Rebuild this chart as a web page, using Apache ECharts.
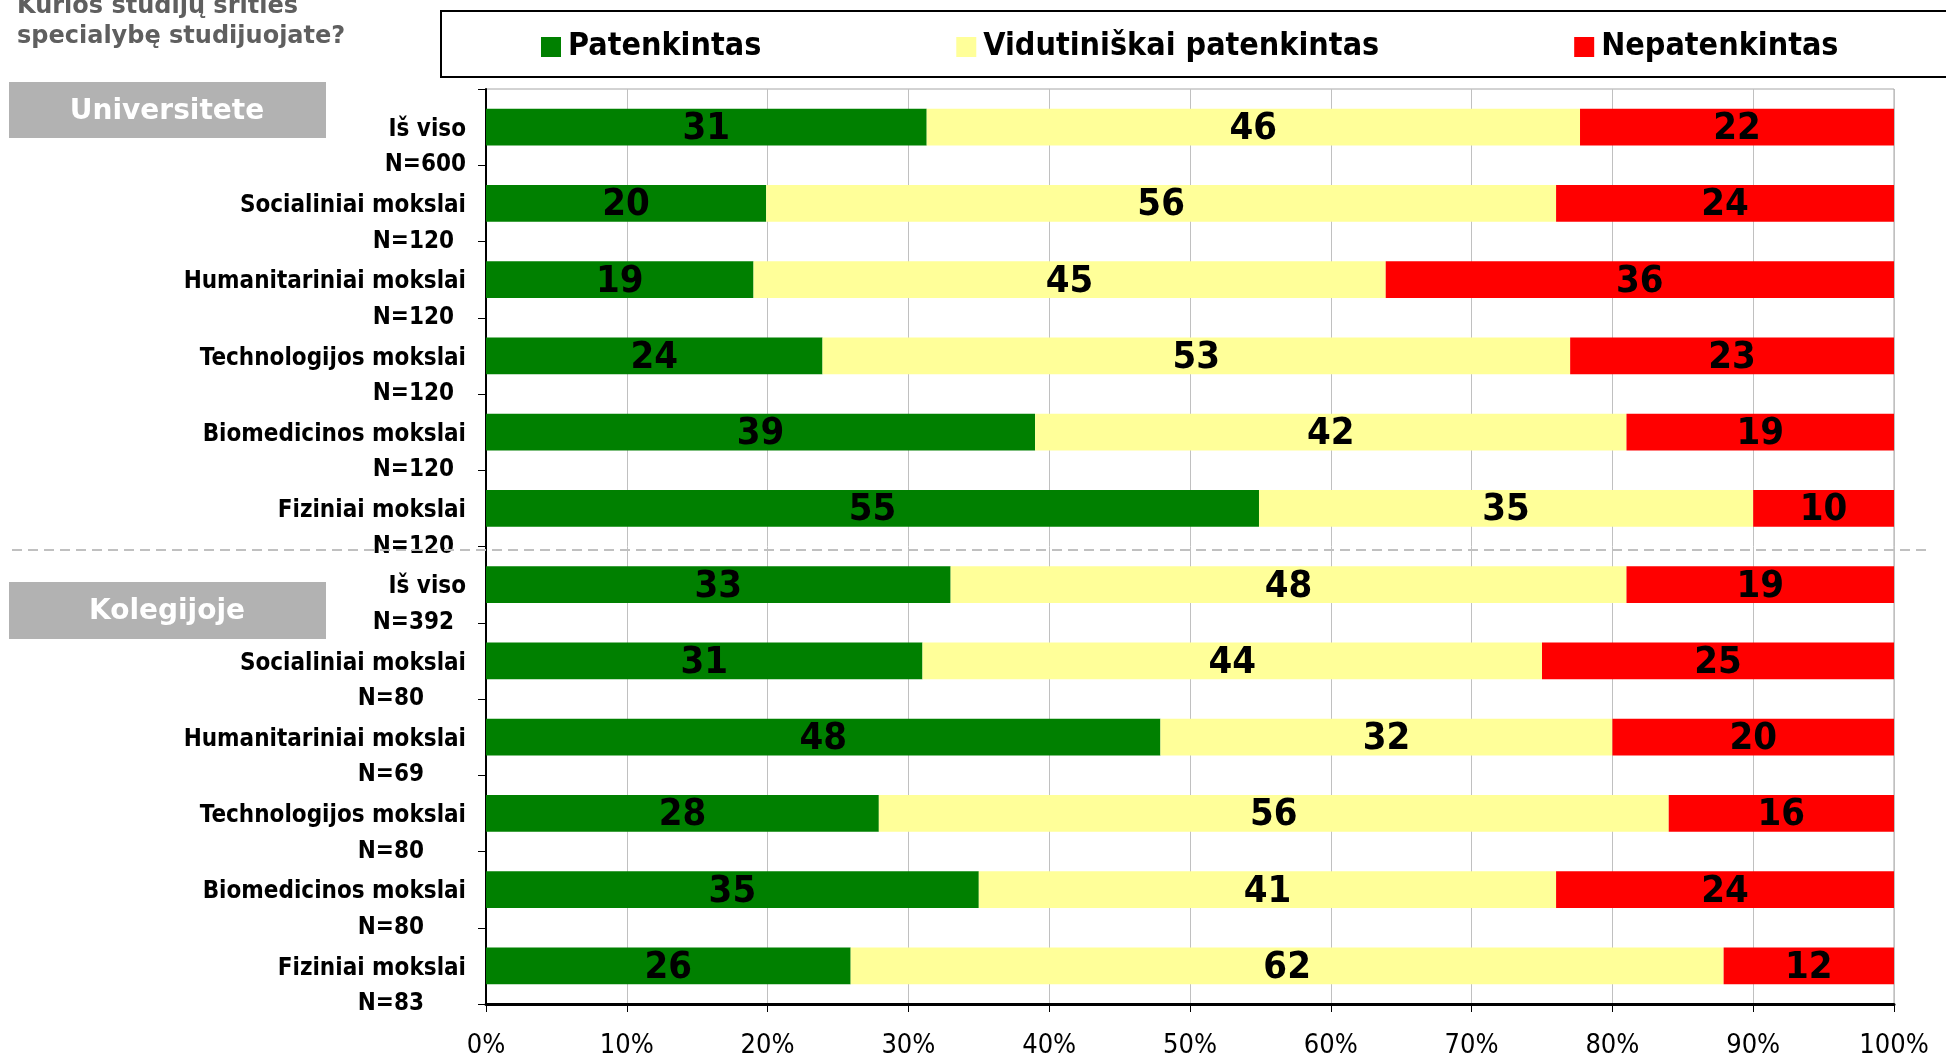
<!DOCTYPE html>
<html>
<head>
<meta charset="utf-8">
<script src="https://cdn.jsdelivr.net/npm/echarts@6/dist/echarts.min.js"></script>
<style>
  html, body { margin: 0; padding: 0; background: #fff; }
  #chart { width: 1946px; height: 1059px; }
</style>
</head>
<body>
<div id="chart"></div>
<script>
var chart = echarts.init(document.getElementById('chart'));

// rows, top to bottom (first six: universitete, last six: kolegijoje)
var fields = ['Iš viso', 'Socialiniai mokslai', 'Humanitariniai mokslai', 'Technologijos mokslai', 'Biomedicinos mokslai', 'Fiziniai mokslai',
              'Iš viso', 'Socialiniai mokslai', 'Humanitariniai mokslai', 'Technologijos mokslai', 'Biomedicinos mokslai', 'Fiziniai mokslai'];
var sampleSizes = ['N=600', 'N=120', 'N=120', 'N=120', 'N=120', 'N=120',
                   'N=392', 'N=80', 'N=69', 'N=80', 'N=80', 'N=83'];

var seriesNames = ['Patenkintas', 'Vidutiniškai patenkintas', 'Nepatenkintas'];
var satisfied    = [31.3, 19.9, 19.0, 23.9, 39.0, 54.9, 33.0, 31.0, 47.9, 27.9, 35.0, 25.9];
var medium       = [46.4, 56.1, 44.9, 53.1, 42.0, 35.1, 48.0, 44.0, 32.1, 56.1, 41.0, 62.0];
var unsatisfied  = [22.3, 24.0, 36.1, 23.0, 19.0, 10.0, 19.0, 25.0, 20.0, 16.0, 24.0, 12.1];
var xTicks = [0, 10, 20, 30, 40, 50, 60, 70, 80, 90, 100];

var colors = ['#008000', '#FFFF99', '#FF0000'];
var condensed = '"DejaVu Sans Condensed", "DejaVu Sans", sans-serif';

var categories = [];
for (var i = 0; i < fields.length; i++) {
    categories.push(fields[i] + '|' + sampleSizes[i]);
}

function makeSeries(name, data, color) {
    return {
        name: name,
        type: 'bar',
        stack: 'total',
        barWidth: '48%',
        data: data,
        itemStyle: { color: color },
        label: {
            show: true,
            position: 'inside',
            offset: [0, 2],
            formatter: function (p) { return Math.round(p.value); },
            color: '#000',
            fontFamily: condensed,
            fontWeight: 'bold',
            fontSize: 38
        }
    };
}

var labelFont = { fontFamily: condensed, fontWeight: 'bold', fontSize: 24, color: '#000', align: 'right' };

var option = {
    animation: false,
    backgroundColor: '#fff',
    legend: {
        data: seriesNames,
        left: 541,
        top: 31,
        padding: 0,
        itemGap: 195,
        itemWidth: 20,
        itemHeight: 20,
        icon: 'rect',
        textStyle: {
            fontFamily: condensed,
            fontWeight: 'bold',
            fontSize: 32,
            color: '#000',
            padding: [0, 0, 0, 2]
        }
    },
    grid: {
        left: 486,
        right: 52,
        top: 89,
        bottom: 54,
        show: true,
        borderColor: '#a6a6a6',
        borderWidth: 1
    },
    xAxis: {
        type: 'value',
        min: xTicks[0],
        max: xTicks[xTicks.length - 1],
        interval: 10,
        axisLine: { show: true, lineStyle: { color: '#000', width: 3 } },
        axisTick: { show: true, length: 8, lineStyle: { color: '#000', width: 1 } },
        splitLine: { show: true, lineStyle: { color: '#c0c0c0', width: 1 } },
        axisLabel: {
            formatter: '{value}%',
            margin: 28,
            color: '#000',
            fontFamily: condensed,
            fontSize: 27
        }
    },
    yAxis: {
        type: 'category',
        inverse: true,
        data: categories,
        axisLine: { show: true, lineStyle: { color: '#000', width: 2 } },
        axisTick: { show: true, length: 8, lineStyle: { color: '#000', width: 1 } },
        splitLine: { show: false },
        axisLabel: {
            interval: 0,
            margin: 20,
            align: 'right',
            formatter: function (v) {
                var parts = v.split('|');
                var style = parts[1].length <= 4 ? 'n2' : (parts[1] === 'N=600' ? 'n0' : 'n3');
                return '{e| }\n{a|' + parts[0] + '}\n{' + style + '|' + parts[1] + '}';
            },
            rich: {
                e:  Object.assign({}, labelFont, { lineHeight: 40 }),
                a:  Object.assign({}, labelFont, { lineHeight: 36 }),
                n0: Object.assign({}, labelFont, { lineHeight: 35 }),
                n3: Object.assign({}, labelFont, { lineHeight: 35, padding: [0, 12, 0, 0] }),
                n2: Object.assign({}, labelFont, { lineHeight: 35, padding: [0, 42, 0, 0] })
            }
        }
    },
    graphic: [
        {
            type: 'text',
            left: 17,
            top: -8,
            style: {
                text: 'Kurios studijų srities\nspecialybę studijuojate?',
                fill: '#5f5f5f',
                font: 'bold 24px "DejaVu Sans", sans-serif',
                lineHeight: 30
            }
        },
        {
            type: 'rect',
            shape: { x: 441, y: 11, width: 1530, height: 66 },
            style: { fill: 'none', stroke: '#000', lineWidth: 2 },
            z: -1
        },
        {
            type: 'group',
            left: 9,
            top: 82,
            children: [
                { type: 'rect', shape: { x: 0, y: 0, width: 317, height: 56 }, style: { fill: '#b2b2b2' } },
                { type: 'text', x: 158, y: 30, style: { text: 'Universitete', fill: '#fff', font: 'bold 28px "DejaVu Sans", sans-serif', align: 'center', verticalAlign: 'middle' } }
            ]
        },
        {
            type: 'group',
            left: 9,
            top: 582,
            children: [
                { type: 'rect', shape: { x: 0, y: 0, width: 317, height: 57 }, style: { fill: '#b2b2b2' } },
                { type: 'text', x: 158, y: 30, style: { text: 'Kolegijoje', fill: '#fff', font: 'bold 28px "DejaVu Sans", sans-serif', align: 'center', verticalAlign: 'middle' } }
            ]
        },
        {
            type: 'line',
            shape: { x1: 12, y1: 550, x2: 1930, y2: 550 },
            style: { stroke: '#c0c0c0', lineWidth: 2, lineDash: [10, 6] },
            z: 10
        }
    ],
    series: [
        makeSeries(seriesNames[0], satisfied, colors[0]),
        makeSeries(seriesNames[1], medium, colors[1]),
        makeSeries(seriesNames[2], unsatisfied, colors[2])
    ]
};

chart.setOption(option);
</script>
</body>
</html>
